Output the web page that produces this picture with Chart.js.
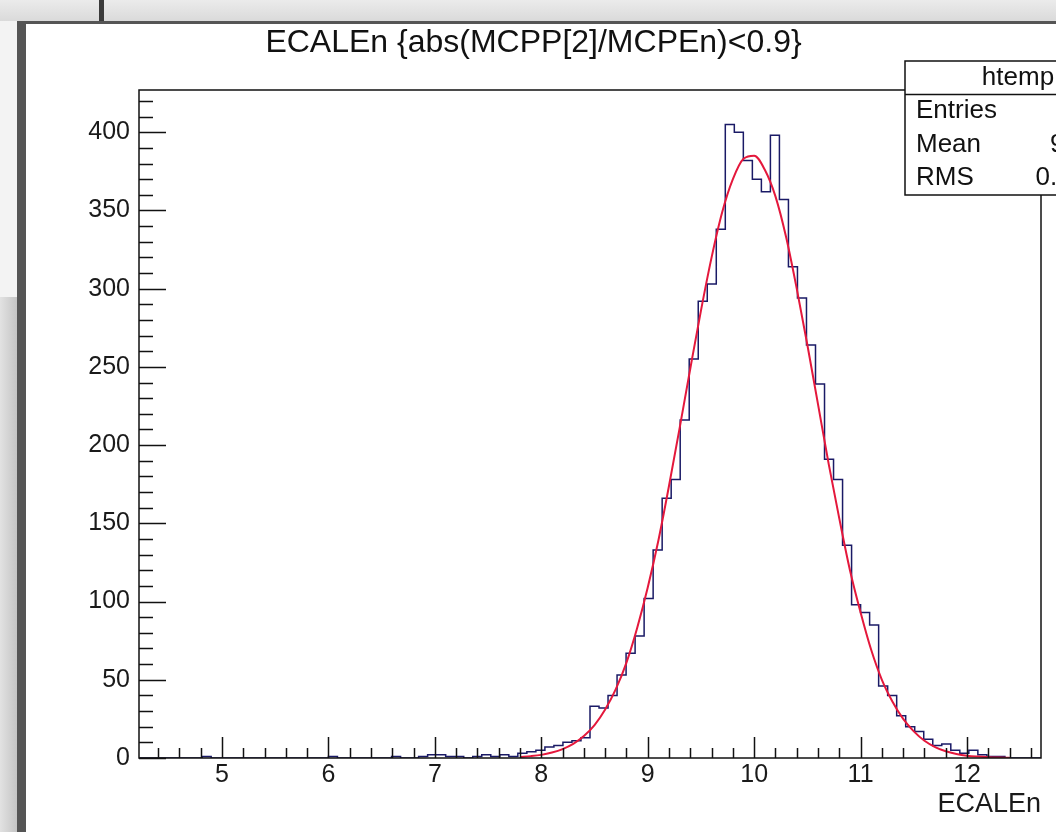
<!DOCTYPE html>
<html>
<head>
<meta charset="utf-8">
<title>ECALEn</title>
<script src="https://cdn.jsdelivr.net/npm/chart.js@4.4.1/dist/chart.umd.min.js"></script>
<style>
  html, body { margin: 0; padding: 0; }
  body { width: 1056px; height: 832px; position: relative; overflow: hidden; background: #fff; }
  #topbar { position: absolute; left: 0; top: 0; width: 1056px; height: 21px; background: linear-gradient(#ebebeb, #dadada); }
  #topnotch { position: absolute; left: 99px; top: 0; width: 5px; height: 21px; background: #3a3a3a; }
  #topline { position: absolute; left: 17px; top: 21px; width: 1039px; height: 3px; background: #555; }
  #leftlight { position: absolute; left: 0; top: 21px; width: 17px; height: 276px; background: #f3f3f3; }
  #leftgray { position: absolute; left: 0; top: 297px; width: 17px; height: 535px; background: linear-gradient(to right, #e2e2e2, #c4c4c4); }
  #leftbar { position: absolute; left: 17px; top: 21px; width: 9px; height: 811px; background: #555; }
  #wrap { position: absolute; left: 26px; top: 24px; width: 1030px; height: 808px; }
</style>
</head>
<body>
<div id="topbar"></div>
<div id="topnotch"></div>
<div id="leftlight"></div>
<div id="leftgray"></div>
<div id="topline"></div>
<div id="leftbar"></div>
<div id="wrap"><canvas id="chart"></canvas></div>
<script>
// histogram htemp : 100 bins between xMin and xMax
const xMin = 4.22;
const xMax = 12.695;
const yMax = 427;
const binCounts = [
	0, 0, 0, 0, 0, 0, 0, 1, 0, 0,
	0, 0, 0, 0, 0, 0, 0, 0, 0, 0,
	0, 1, 0, 0, 0, 0, 0, 0, 1, 0,
	0, 1, 2, 2, 1, 1, 0, 1, 2, 1,
	2, 1, 3, 4, 5, 7, 8, 10, 11, 13,
	33, 32, 40, 53, 67, 78, 102, 133, 166, 178,
	216, 255, 292, 303, 338, 405, 400, 382, 370, 362,
	398, 357, 314, 294, 264, 239, 191, 178, 136, 98,
	93, 85, 46, 40, 27, 20, 17, 12, 8, 9,
	5, 3, 5, 2, 1, 1, 0, 0, 0, 0
];

// gaus fit
const fitX = [7.8, 7.9, 8.0, 8.1, 8.2, 8.3, 8.4, 8.5, 8.6, 8.7, 8.8, 8.9, 9.0, 9.1, 9.2, 9.3, 9.4, 9.5, 9.6, 9.7,
	9.8, 9.9, 10.0, 10.1, 10.2, 10.3, 10.4, 10.5, 10.6, 10.7, 10.8, 10.9, 11.0, 11.1, 11.2, 11.3, 11.4, 11.5,
	11.6, 11.7, 11.8, 11.9, 12.0, 12.1, 12.2, 12.3, 12.4];
const fitY = [0.7, 1.2, 2, 3.5, 5.7, 9, 14, 21, 31, 44, 61, 83, 109, 139, 174, 211, 249, 286, 320, 349,
	370, 383, 385, 376, 359, 333, 300, 264, 226, 188, 153, 120, 93, 69, 50, 36, 25, 17,
	11, 7, 4.3, 2.6, 1.5, 0.9, 0.5, 0.3, 0.2];

const xTickLabels = ['5', '6', '7', '8', '9', '10', '11', '12'];
const yTickLabels = ['0', '50', '100', '150', '200', '250', '300', '350', '400'];

const FONT = "'Liberation Sans', Arial, sans-serif";
const nBins = binCounts.length;
const binW = (xMax - xMin) / nBins;

// outline points at the left edge of each bin + closing point
const histPoints = binCounts.map((n, i) => ({ x: xMin + i * binW, y: n }));
histPoints.push({ x: xMax, y: binCounts[nBins - 1] });
const fitPoints = fitX.map((x, i) => ({ x: x, y: fitY[i] }));

// stats like the ROOT box
let entries = 0, sx = 0, sxx = 0;
binCounts.forEach((n, i) => {
	const c = xMin + (i + 0.5) * binW;
	entries += n; sx += n * c; sxx += n * c * c;
});
const mean = sx / entries;
const rms = Math.sqrt(sxx / entries - mean * mean);

const isWhole = v => Math.abs(v - Math.round(v)) < 1e-6;

// ROOT style frame + inner ticks
const rootAxes = {
	id: 'rootAxes',
	afterDatasetsDraw(chart) {
		const { ctx, chartArea: a, scales: { x, y } } = chart;
		ctx.save();
		ctx.strokeStyle = '#111';
		ctx.lineWidth = 1.5;
		ctx.beginPath();
		x.ticks.forEach(t => {
			const px = Math.round(x.getPixelForValue(t.value)) + 0.5;
			const len = isWhole(t.value) ? 21 : 10;
			ctx.moveTo(px, a.bottom);
			ctx.lineTo(px, a.bottom - len);
		});
		y.ticks.forEach(t => {
			const py = Math.round(y.getPixelForValue(t.value)) + 0.5;
			const len = t.value % 50 === 0 ? 27 : 14;
			ctx.moveTo(a.left, py);
			ctx.lineTo(a.left + len, py);
		});
		ctx.stroke();
		ctx.strokeRect(a.left, a.top, a.right - a.left, a.bottom - a.top);
		ctx.restore();
	}
};

// stats pave, partly outside the visible canvas like in the screenshot
const statsBox = {
	id: 'statsBox',
	afterDraw(chart) {
		const ctx = chart.ctx;
		const left = 879, top = 37, right = 1105, rowH = 33.5;
		ctx.save();
		ctx.fillStyle = '#fff';
		ctx.fillRect(left, top, right - left, rowH * 4);
		ctx.strokeStyle = '#111';
		ctx.lineWidth = 1.5;
		ctx.strokeRect(left, top, right - left, rowH * 4);
		ctx.beginPath();
		ctx.moveTo(left, top + rowH);
		ctx.lineTo(right, top + rowH);
		ctx.stroke();
		ctx.fillStyle = '#111';
		ctx.font = '26px ' + FONT;
		ctx.textBaseline = 'middle';
		ctx.textAlign = 'center';
		ctx.fillText('htemp', (left + right) / 2, top + rowH / 2);
		const rows = [
			['Entries', String(entries)],
			['Mean', mean.toPrecision(4)],
			['RMS', rms.toPrecision(4)]
		];
		rows.forEach((r, i) => {
			const cy = top + rowH * (i + 1.5);
			ctx.textAlign = 'left';
			ctx.fillText(r[0], left + 11, cy);
			ctx.textAlign = 'right';
			ctx.fillText(r[1], right - 16, cy);
		});
		ctx.restore();
	}
};

new Chart(document.getElementById('chart'), {
	type: 'line',
	data: {
		datasets: [
			{
				label: 'gaus',
				data: fitPoints,
				borderColor: '#e4183c',
				borderWidth: 2,
				pointRadius: 0,
				cubicInterpolationMode: 'monotone',
				order: 0
			},
			{
				label: 'htemp',
				data: histPoints,
				borderColor: '#1a1a66',
				borderWidth: 1.5,
				pointRadius: 0,
				stepped: true,
				order: 1
			}
		]
	},
	options: {
		responsive: true,
		maintainAspectRatio: false,
		animation: false,
		devicePixelRatio: 1,
		layout: { padding: { left: 0, right: 15, top: 0, bottom: 0 } },
		plugins: {
			legend: { display: false },
			tooltip: { enabled: false },
			title: {
				display: true,
				text: 'ECALEn {abs(MCPP[2]/MCPEn)<0.9}',
				color: '#111',
				font: { family: FONT, size: 32, weight: 'normal' },
				padding: { top: 0, bottom: 27.6 }
			}
		},
		scales: {
			x: {
				type: 'linear',
				min: xMin,
				max: xMax,
				grid: { display: false, drawTicks: false },
				border: { display: false },
				ticks: {
					stepSize: 0.2,
					autoSkip: false,
					maxRotation: 0,
					includeBounds: false,
					padding: 2,
					color: '#1a1a1a',
					font: { family: FONT, size: 25 },
					callback: v => (isWhole(v) && xTickLabels.includes(String(Math.round(v)))) ? String(Math.round(v)) : ''
				},
				title: {
					display: true,
					text: 'ECALEn',
					align: 'end',
					color: '#1a1a1a',
					font: { family: FONT, size: 27 },
					padding: { top: 0, bottom: 11 }
				},
				afterFit: s => { s.height = 74; }
			},
			y: {
				min: 0,
				max: yMax,
				grid: { display: false, drawTicks: false },
				border: { display: false },
				ticks: {
					stepSize: 10,
					autoSkip: false,
					includeBounds: false,
					padding: 9,
					color: '#1a1a1a',
					font: { family: FONT, size: 25 },
					callback: v => yTickLabels.includes(String(v)) ? String(v) : ''
				},
				afterFit: s => { s.width = 113; }
			}
		}
	},
	plugins: [rootAxes, statsBox]
});
</script>
</body>
</html>
